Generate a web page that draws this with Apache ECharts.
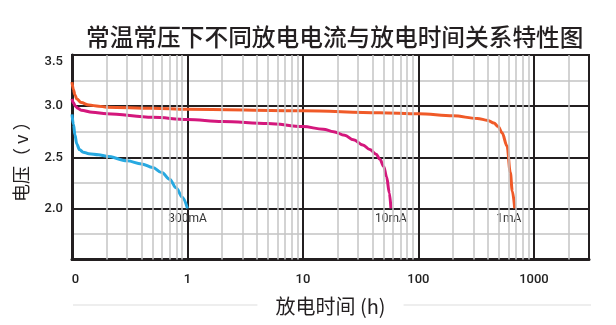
<!DOCTYPE html>
<html>
<head>
<meta charset="utf-8">
<script src="https://cdn.jsdelivr.net/npm/echarts@6/dist/echarts.min.js"></script>
<style>
html,body{margin:0;padding:0;background:#fff}
#chart{width:616px;height:325px}
</style>
</head>
<body>
<div id="chart"></div>
<script>
// Discharge curves of a cell at room temperature / pressure, three load currents
const chartTitle = '常温常压下不同放电电流与放电时间关系特性图';
const xAxisName = '放电时间 (h)';
const yAxisName = '电压（ v ）';

const seriesNames = ['300mA', '10mA', '1mA'];
const seriesColors = ['#27a9e1', '#d4177c', '#f05a28'];

// 300 mA load: time (h) and voltage (V)
const time300 = [0.1, 0.103, 0.106, 0.11, 0.116, 0.125, 0.14, 0.17, 0.2, 0.3, 0.4, 0.5, 0.6, 0.7, 0.8, 0.9, 1.0];
const volt300 = [2.92, 2.82, 2.72, 2.63, 2.575, 2.55, 2.535, 2.525, 2.51, 2.465, 2.435, 2.40, 2.35, 2.285, 2.20, 2.11, 2.0];

// 10 mA load
const time10 = [0.1, 0.103, 0.107, 0.112, 0.12, 0.15, 0.2, 0.5, 1, 2, 5, 10, 15, 18.4, 23, 27.4, 33, 38, 43, 46.4, 50, 53, 56, 57.8];
const volt10 = [3.07, 3.03, 3.0, 2.98, 2.96, 2.94, 2.925, 2.89, 2.87, 2.85, 2.83, 2.80, 2.775, 2.75, 2.715, 2.67, 2.62, 2.575, 2.53, 2.48, 2.41, 2.31, 2.15, 2.0];

// 1 mA load
const time1 = [0.1, 0.103, 0.106, 0.11, 0.12, 0.14, 0.17, 0.2, 0.5, 1, 10, 46, 100, 200, 323, 400, 450, 490, 530, 585, 625, 650, 682];
const volt1 = [3.235, 3.16, 3.11, 3.07, 3.035, 3.01, 3.0, 2.99, 2.98, 2.97, 2.955, 2.935, 2.925, 2.905, 2.88, 2.86, 2.835, 2.80, 2.74, 2.61, 2.35, 2.17, 2.0];

// Minor (grey) vertical grid positions on the log time axis
const minorTimeLines = [0.2, 0.3, 0.4, 0.5, 0.6, 0.7, 0.8, 0.9,
  2, 3, 4, 5, 6, 7, 8, 9,
  20, 30, 40, 50, 60, 70, 80, 90,
  200, 300, 400, 500, 600, 700, 800, 900, 2000];

const timeSets = [time300, time10, time1];
const voltSets = [volt300, volt10, volt1];
const labelOffsets = [[0, 0], [0, 0], [-6, 0]];

function buildData(times, volts, name, offset) {
  return times.map(function (t, i) {
    const item = { value: [t, volts[i]] };
    if (i === times.length - 1) {
      item.label = {
        show: true,
        formatter: name,
        position: 'bottom',
        distance: 5,
        offset: offset,
        color: '#333',
        fontSize: 12,
        fontFamily: 'Roboto, sans-serif'
      };
    }
    return item;
  });
}

const curveSeries = seriesNames.map(function (name, k) {
  return {
    name: name,
    type: 'line',
    smooth: 0.35,
    smoothMonotone: 'x',
    showSymbol: true,
    symbol: 'circle',
    symbolSize: 0.1,
    z: 3,
    lineStyle: { width: 3, color: seriesColors[k] },
    itemStyle: { color: seriesColors[k] },
    data: buildData(timeSets[k], voltSets[k], name, labelOffsets[k])
  };
});

const gridSeries = {
  type: 'line',
  data: [],
  silent: true,
  z: -1,
  markLine: {
    silent: true,
    symbol: ['none', 'none'],
    label: { show: false },
    lineStyle: { color: '#c4c4c4', width: 1.5, type: 'solid' },
    data: minorTimeLines.map(function (v) { return { xAxis: v }; })
  }
};

const chart = echarts.init(document.getElementById('chart'), null, { renderer: 'canvas' });

chart.setOption({
  animation: false,
  backgroundColor: '#fff',
  title: {
    text: chartTitle,
    left: 81,
    top: 20,
    textStyle: {
      fontFamily: '"Noto Sans CJK SC", sans-serif',
      fontSize: 23.7,
      fontWeight: 500,
      color: '#231f20'
    }
  },
  graphic: [{
    type: 'line',
    z: -10,
    shape: { x1: 73, y1: 305, x2: 591, y2: 305 },
    style: { stroke: '#dddddd', lineWidth: 1 }
  }],
  grid: {
    left: 72,
    top: 55,
    right: 27,
    bottom: 65.5,
    show: true,
    borderColor: '#231f20',
    borderWidth: 2,
    backgroundColor: 'transparent'
  },
  xAxis: {
    type: 'log',
    logBase: 10,
    min: 0.1,
    max: 3000,
    name: xAxisName,
    nameLocation: 'middle',
    nameGap: 35,
    nameTextStyle: {
      fontFamily: '"Noto Sans CJK SC", sans-serif',
      fontSize: 20,
      color: '#231f20',
      backgroundColor: '#fff',
      padding: [2, 18, 2, 18]
    },
    axisLine: { show: true, lineStyle: { color: '#231f20', width: 3 } },
    axisTick: { show: false },
    splitLine: { show: true, lineStyle: { color: '#231f20', width: 2 } },
    axisLabel: {
      margin: 14,
      showMaxLabel: false,
      fontFamily: 'Roboto, sans-serif',
      fontWeight: 500,
      fontSize: 13,
      color: '#222',
      formatter: function (v) {
        if (Math.abs(v - 0.1) < 1e-9) return '{first|0}';
        return String(Math.round(v));
      },
      rich: {
        first: { padding: [0, 0, 0, 7], fontFamily: 'Roboto, sans-serif', fontWeight: 500, fontSize: 13, color: '#222' }
      }
    }
  },
  yAxis: {
    type: 'value',
    min: 1.5,
    max: 3.5,
    interval: 0.5,
    name: yAxisName,
    nameLocation: 'middle',
    nameGap: 42,
    nameRotate: 90,
    nameTextStyle: {
      fontFamily: '"Noto Sans CJK SC", sans-serif',
      fontSize: 18,
      color: '#231f20'
    },
    axisLine: { show: true, lineStyle: { color: '#231f20', width: 3 } },
    axisTick: { show: false },
    splitLine: { show: true, lineStyle: { color: '#231f20', width: 2 } },
    minorTick: { show: false, splitNumber: 2 },
    minorSplitLine: { show: true, lineStyle: { color: '#c4c4c4', width: 1.5 } },
    axisLabel: {
      margin: 9,
      fontFamily: 'Roboto, sans-serif',
      fontWeight: 500,
      fontSize: 13,
      color: '#222',
      formatter: function (v) {
        if (Math.abs(v - 1.5) < 1e-9) return '';
        if (Math.abs(v - 3.5) < 1e-9) return '{top|3.5}';
        return v.toFixed(1);
      },
      rich: {
        top: { padding: [14, 0, 0, 0], fontFamily: 'Roboto, sans-serif', fontWeight: 500, fontSize: 13, color: '#222' }
      }
    }
  },
  series: [gridSeries].concat(curveSeries)
});
</script>
</body>
</html>
